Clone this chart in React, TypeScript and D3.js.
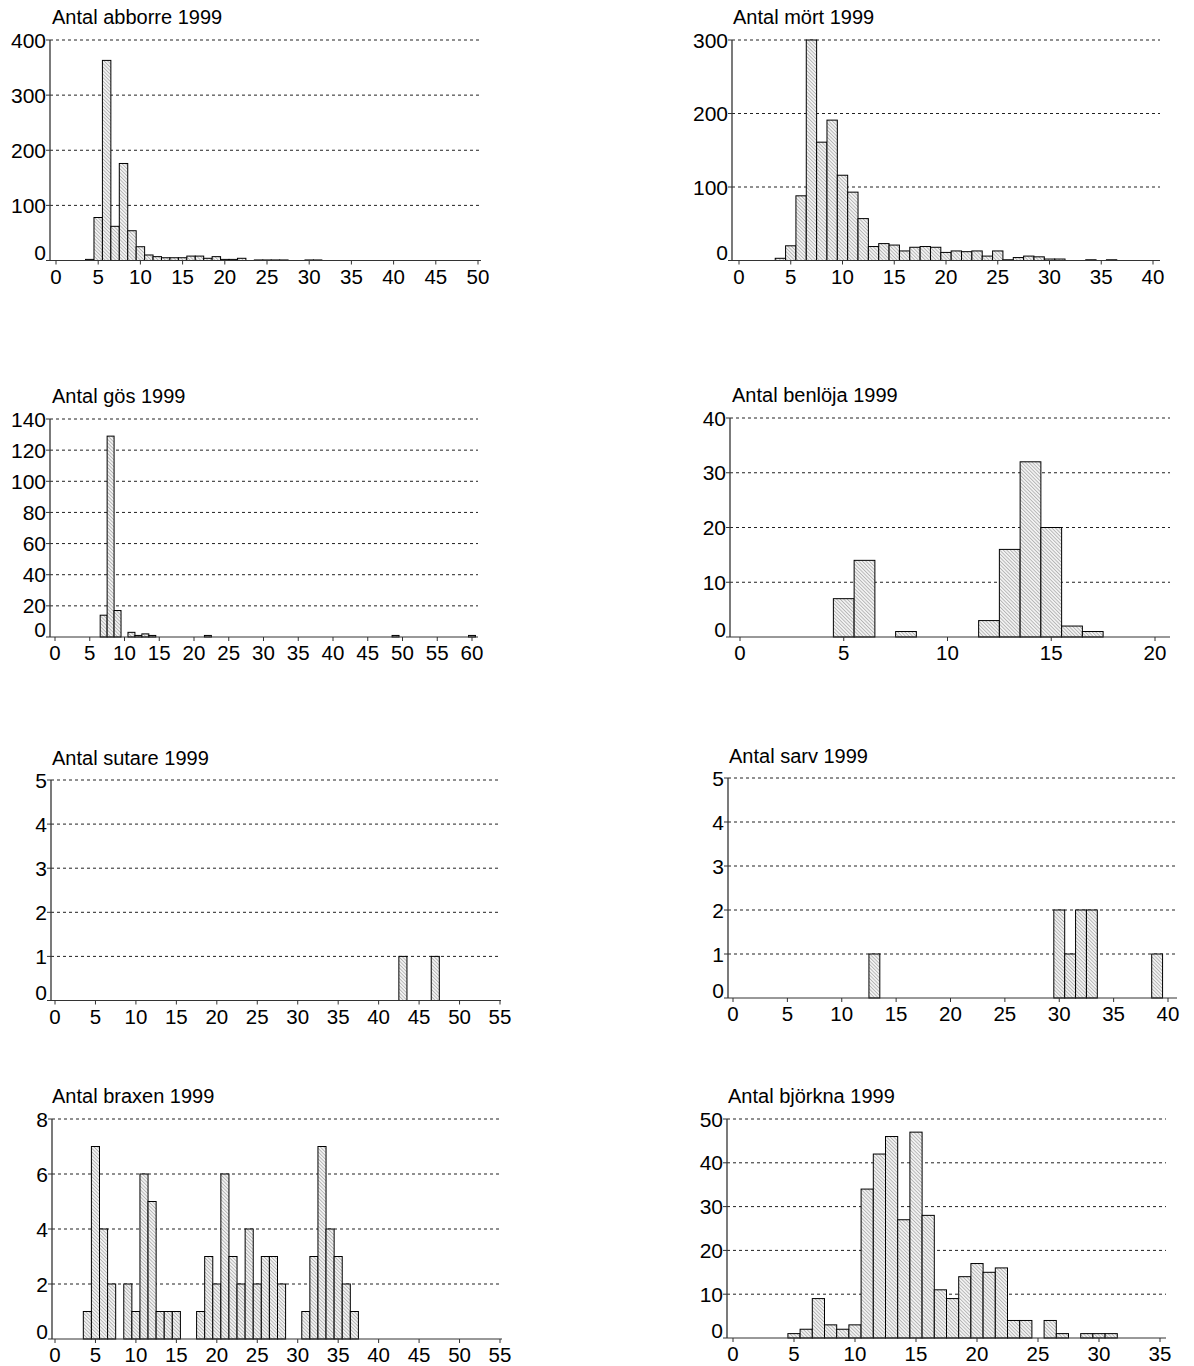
import React from "react";
import { scaleLinear, range } from "d3";

// length classes (cm) and catch per class
const abborreLength = [4, 5, 6, 7, 8, 9, 10, 11, 12, 13, 14, 15, 16, 17, 18, 19, 20, 21, 22, 24, 25, 26, 27, 30, 31];
const abborreCount = [2, 78, 363, 62, 176, 54, 25, 10, 7, 5, 5, 5, 8, 8, 4, 7, 2, 2, 4, 1, 1, 1, 1, 1, 1];

const mortLength = [4, 5, 6, 7, 8, 9, 10, 11, 12, 13, 14, 15, 16, 17, 18, 19, 20, 21, 22, 23, 24, 25, 26, 27, 28, 29, 30, 31, 34, 36];
const mortCount = [3, 20, 88, 300, 161, 191, 116, 93, 57, 19, 23, 21, 13, 18, 19, 18, 11, 13, 12, 13, 6, 13, 1, 4, 6, 5, 2, 2, 1, 1];

const gosLength = [7, 8, 9, 11, 12, 13, 14, 22, 49, 60];
const gosCount = [14, 129, 17, 3, 1, 2, 1, 1, 1, 1];

const benlojaLength = [5, 6, 8, 12, 13, 14, 15, 16, 17];
const benlojaCount = [7, 14, 1, 3, 16, 32, 20, 2, 1];

const sutareLength = [43, 47];
const sutareCount = [1, 1];

const sarvLength = [13, 30, 31, 32, 33, 39];
const sarvCount = [1, 2, 1, 2, 2, 1];

const braxenLength = [4, 5, 6, 7, 9, 10, 11, 12, 13, 14, 15, 18, 19, 20, 21, 22, 23, 24, 25, 26, 27, 28, 31, 32, 33, 34, 35, 36, 37];
const braxenCount = [1, 7, 4, 2, 2, 1, 6, 5, 1, 1, 1, 1, 3, 2, 6, 3, 2, 4, 2, 3, 3, 2, 1, 3, 7, 4, 3, 2, 1];

const bjorknaLength = [5, 6, 7, 8, 9, 10, 11, 12, 13, 14, 15, 16, 17, 18, 19, 20, 21, 22, 23, 24, 26, 27, 29, 30, 31];
const bjorknaCount = [1, 2, 9, 3, 2, 3, 34, 42, 46, 27, 47, 28, 11, 9, 14, 17, 15, 16, 4, 4, 4, 1, 1, 1, 1];

const panels = [
  { title: "Antal abborre 1999", len: abborreLength, cnt: abborreCount, yMax: 400, yStep: 100, xMax: 50,
    axisX: 50, x0: 56, x1: 478, gridRight: 481, yTop: 40, yBottom: 260.5, tx: 52, ty: 24 },
  { title: "Antal mört 1999", len: mortLength, cnt: mortCount, yMax: 300, yStep: 100, xMax: 40,
    axisX: 732, x0: 739, x1: 1153, gridRight: 1160, yTop: 40, yBottom: 260.5, tx: 733, ty: 24 },
  { title: "Antal gös 1999", len: gosLength, cnt: gosCount, yMax: 140, yStep: 20, xMax: 60,
    axisX: 50, x0: 55, x1: 472, gridRight: 478, yTop: 419, yBottom: 637, tx: 52, ty: 403 },
  { title: "Antal benlöja 1999", len: benlojaLength, cnt: benlojaCount, yMax: 40, yStep: 10, xMax: 20,
    axisX: 730, x0: 740, x1: 1155, gridRight: 1170, yTop: 418, yBottom: 637, tx: 732, ty: 402 },
  { title: "Antal sutare 1999", len: sutareLength, cnt: sutareCount, yMax: 5, yStep: 1, xMax: 55,
    axisX: 51, x0: 55, x1: 500, gridRight: 501, yTop: 780, yBottom: 1000.5, tx: 52, ty: 765 },
  { title: "Antal sarv 1999", len: sarvLength, cnt: sarvCount, yMax: 5, yStep: 1, xMax: 40,
    axisX: 728, x0: 733, x1: 1168, gridRight: 1177, yTop: 778, yBottom: 998, tx: 729, ty: 763 },
  { title: "Antal braxen 1999", len: braxenLength, cnt: braxenCount, yMax: 8, yStep: 2, xMax: 55,
    axisX: 52, x0: 55, x1: 500, gridRight: 502, yTop: 1119, yBottom: 1339, tx: 52, ty: 1103 },
  { title: "Antal björkna 1999", len: bjorknaLength, cnt: bjorknaCount, yMax: 50, yStep: 10, xMax: 35,
    axisX: 727, x0: 733, x1: 1160, gridRight: 1166, yTop: 1119, yBottom: 1338, tx: 728, ty: 1103 },
];

const font = "'Liberation Sans', Arial, sans-serif";

function Histogram({ p }) {
  const x = scaleLinear().domain([0, p.xMax]).range([p.x0, p.x1]);
  const y = scaleLinear().domain([0, p.yMax]).range([p.yBottom, p.yTop]);
  const yTicks = range(0, p.yMax + p.yStep / 2, p.yStep);
  const xTicks = range(0, p.xMax + 0.1, 5);
  const bw = x(1) - x(0);

  return (
    <g>
      <text x={p.tx} y={p.ty} fontSize={20} fontFamily={font} fill="#000">{p.title}</text>

      {yTicks.filter((t) => t > 0).map((t) => (
        <line key={"g" + t} x1={p.axisX} x2={p.gridRight} y1={y(t)} y2={y(t)}
          stroke="#222" strokeWidth={1} strokeDasharray="3,3" />
      ))}

      {p.len.map((l, i) => (
        <rect key={"b" + l} x={x(l) - bw / 2} width={bw} y={y(p.cnt[i])}
          height={p.yBottom - y(p.cnt[i])} fill="url(#hatch)" stroke="#000" strokeWidth={1} />
      ))}

      <line x1={p.axisX} x2={p.gridRight} y1={p.yBottom} y2={p.yBottom} stroke="#333" strokeWidth={1} />
      <line x1={p.axisX} x2={p.axisX} y1={p.yTop} y2={p.yBottom} stroke="#333" strokeWidth={1.3} />

      {yTicks.map((t) => (
        <g key={"y" + t}>
          <line x1={p.axisX - 4} x2={p.axisX} y1={y(t)} y2={y(t)} stroke="#333" />
          <text x={p.axisX - 4} y={t === 0 ? y(t) - 8 : y(t)} dy="0.36em" textAnchor="end"
            fontSize={21} fontFamily={font} fill="#000">{t}</text>
        </g>
      ))}

      {xTicks.map((t) => (
        <g key={"x" + t}>
          <line x1={x(t)} x2={x(t)} y1={p.yBottom} y2={p.yBottom + 4} stroke="#333" />
          <text x={x(t)} y={p.yBottom + 23} textAnchor="middle" fontSize={20.5}
            fontFamily={font} fill="#000">{t}</text>
        </g>
      ))}
    </g>
  );
}

export default function App() {
  return (
    <svg width={1194} height={1366} style={{ position: "absolute", left: 0, top: 0, background: "#fff" }}>
      <defs>
        <pattern id="hatch" patternUnits="userSpaceOnUse" width={2.5} height={2.5} patternTransform="rotate(-45)">
          <rect width={2.5} height={2.5} fill="#f4f4f4" />
          <line x1={0.5} y1={0} x2={0.5} y2={2.5} stroke="#a8a8a8" strokeWidth={0.8} />
        </pattern>
      </defs>
      {panels.map((p) => <Histogram key={p.title} p={p} />)}
    </svg>
  );
}
